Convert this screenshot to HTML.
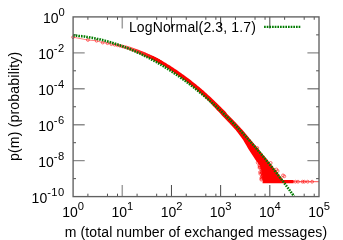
<!DOCTYPE html>
<html><head><meta charset="utf-8"><title>plot</title>
<style>
html,body{margin:0;padding:0;background:#fff;}
body{width:343px;height:240px;position:relative;overflow:hidden;font-family:"Liberation Sans",sans-serif;color:#000;}
#tx{position:absolute;left:0;top:0;width:343px;height:240px;will-change:transform;}
.t{position:absolute;height:20px;line-height:20px;white-space:nowrap;font-size:14px;}
.t.c{width:80px;text-align:center;}
.m{font-size:14px;}
.s{font-size:11.2px;position:relative;top:-7px;}
.s.n{letter-spacing:0.45px;}
.xl{position:absolute;left:0;width:343px;text-align:center;font-size:14px;line-height:16px;white-space:nowrap;}
.yl{position:absolute;font-size:14px;line-height:16px;white-space:nowrap;transform-origin:0 0;transform:rotate(-90deg);}
.lg{position:absolute;font-size:14px;line-height:16px;white-space:nowrap;}
</style></head><body>
<svg width="343" height="240" viewBox="0 0 343 240" style="position:absolute;left:0;top:0">
<path d="M73.1 52.84h11.6M319.0 52.84h-11.6M73.1 88.78h11.6M319.0 88.78h-11.6M73.1 124.72h11.6M319.0 124.72h-11.6M73.1 160.66h11.6M319.0 160.66h-11.6" stroke="#8c8c8c" stroke-width="1.4" fill="none"/>
<path d="M122.28 196.6v-11.6M122.28 16.9v11.6" stroke="#a0a0a0" stroke-width="1.5" fill="none"/>
<path d="M171.46 196.6v-11.6M171.46 16.9v11.6M220.64 196.6v-11.6M220.64 16.9v11.6M269.82 196.6v-11.6M269.82 16.9v11.6" stroke="#333333" stroke-width="0.9" fill="none"/>
<path d="M87.90 196.6v-2.9M87.90 16.9v2.9M107.48 196.6v-2.9M107.48 16.9v2.9M117.51 196.6v-2.9M117.51 16.9v2.9M137.08 196.6v-2.9M137.08 16.9v2.9M156.66 196.6v-2.9M156.66 16.9v2.9M166.69 196.6v-2.9M166.69 16.9v2.9M186.26 196.6v-2.9M186.26 16.9v2.9M205.84 196.6v-2.9M205.84 16.9v2.9M215.87 196.6v-2.9M215.87 16.9v2.9M235.44 196.6v-2.9M235.44 16.9v2.9M255.02 196.6v-2.9M255.02 16.9v2.9M265.05 196.6v-2.9M265.05 16.9v2.9M284.62 196.6v-2.9M284.62 16.9v2.9M304.20 196.6v-2.9M304.20 16.9v2.9M314.23 196.6v-2.9M314.23 16.9v2.9M73.1 34.87h2.9M319.0 34.87h-2.9M73.1 70.81h2.9M319.0 70.81h-2.9M73.1 106.75h2.9M319.0 106.75h-2.9M73.1 142.69h2.9M319.0 142.69h-2.9M73.1 178.63h2.9M319.0 178.63h-2.9" stroke="#303030" stroke-width="0.85" fill="none"/>
<g fill="none" stroke="#ff0000">
<path d="M73.1 37.2 L87.9 40.0 L96.6 40.8 L102.7 42.6 L107.5 43.2 L111.4 44.2 L114.7 44.8 L117.5 45.3 L120.0 45.8 L122.3 46.4 L124.3 46.9 L126.2 47.4 L127.9 47.9 L129.5 48.4 L130.9 48.9 L132.3 49.4 L133.6 49.9 L134.8 50.3 L136.0 50.7 L137.1 51.1 L138.1 51.5 L139.1 51.9 L140.1 52.3 L141.0 52.7 L141.9 53.0 L142.7 53.4 L143.5 53.7 L144.3 54.0 L145.0 54.3 L145.7 54.6 L146.4 55.0 L147.1 55.3 L147.8 55.6 L148.4 55.9 L149.0 56.1 L149.6 56.4 L150.2 56.7 L150.8 57.0 L151.3 57.2 L151.9 57.5 L152.4 57.7 L152.9 58.0 L153.4 58.2 L153.9 58.5 L154.4 58.7 L154.9 59.0 L155.3 59.2 L155.8 59.4 L156.2 59.7 L156.7 59.9 L157.1 60.1 L157.5 60.4 L157.9 60.6 L158.3 60.8 L158.7 61.0 L159.1 61.2 L159.5 61.4 L159.8 61.6 L160.2 61.8 L160.5 62.0" stroke-width="0.5"/>
<path d="M152.7 56.0 L153.7 56.5 L154.7 57.0 L155.8 57.5 L156.8 58.0 L157.8 58.6 L158.8 59.1 L159.8 59.7 L160.8 60.2 L161.9 60.8 L162.9 61.3 L163.9 61.9 L164.9 62.5 L165.9 63.1 L166.9 63.7 L168.0 64.4 L169.0 65.0 L170.0 65.6 L171.0 66.3 L172.0 66.9 L173.0 67.6 L174.0 68.3 L175.0 68.9 L176.0 69.6 L177.1 70.3 L178.1 71.0 L179.1 71.7 L180.1 72.4 L181.1 73.1 L182.1 73.9 L183.1 74.6 L184.1 75.3 L185.1 76.1 L186.1 76.8 L187.1 77.6 L188.2 78.3 L189.2 79.1 L190.2 79.8 L191.2 80.6 L192.2 81.4 L193.2 82.2 L194.2 83.0 L195.2 83.8 L196.2 84.6 L197.2 85.4 L198.2 86.2 L199.3 87.1 L200.3 88.0 L201.3 88.8 L202.3 89.7 L203.4 90.6 L204.4 91.5 L205.4 92.4 L206.4 93.3 L207.4 94.3 L208.4 95.2 L209.4 96.1 L210.5 97.0 L211.5 98.0 L212.5 99.0 L213.6 100.0 L214.6 101.0 L215.6 102.0 L216.7 103.0 L217.7 104.0 L218.7 105.0 L219.7 106.1 L220.8 107.1 L221.7 108.1 L222.7 109.0 L223.8 110.0 L224.8 111.0 L225.8 112.0 L227.2 114.0 L228.2 115.0 L229.2 116.0 L230.2 117.0 L231.2 118.0 L232.2 119.0 L233.2 120.0 L234.1 121.0 L235.1 122.0 L236.1 123.0 L237.0 124.0 L237.9 125.0 L238.9 126.0 L239.8 127.0 L240.7 128.0 L241.6 129.0 L242.6 130.0 L243.4 131.0 L244.3 132.0 L245.1 133.0 L245.9 134.0 L246.8 135.0 L247.6 136.0 L248.4 137.0 L249.2 138.0 L250.0 139.0 L250.9 140.0 L251.7 141.0 L252.5 142.0 L253.4 143.0 L254.2 144.0 L255.0 145.0 L255.9 146.0 L256.7 147.0 L257.5 148.0 L258.3 149.0 L259.1 150.0 L260.0 151.0 L260.8 152.0 L261.7 153.0 L262.5 154.0 L263.3 155.0 L264.2 156.0 L265.0 157.0 L265.8 158.0 L266.7 159.0 L267.5 160.0 L268.3 161.0 L269.1 162.0 L269.9 163.0 L270.7 164.0 L271.5 165.0 L272.3 166.0 L273.1 167.0 L273.9 168.0 L274.7 169.0 L275.5 170.0 L276.3 171.0 L277.1 172.0 L277.9 173.0 L278.6 174.0 L279.4 175.0 L280.2 176.0 L280.9 177.0 L281.7 178.0 L282.5 179.0 L283.2 180.0 L293.6 180.1 L293.6 183.3 L262.6 183.3 L262.6 180.6 L262.8 179.6 L262.7 179.0 L262.6 178.0 L262.4 177.0 L262.3 176.0 L262.1 175.0 L261.9 174.0 L261.8 173.0 L261.6 172.0 L261.4 171.0 L261.2 170.0 L260.9 169.0 L260.6 168.0 L260.3 167.0 L260.0 166.0 L259.3 165.0 L258.5 164.0 L257.8 163.0 L257.1 162.0 L256.3 161.0 L255.6 160.0 L254.9 159.0 L254.3 158.0 L253.6 157.0 L253.0 156.0 L252.3 155.0 L251.6 154.0 L251.0 153.0 L250.3 152.0 L249.7 151.0 L249.0 150.0 L248.4 149.0 L247.8 148.0 L247.2 147.0 L246.7 146.0 L246.1 145.0 L245.5 144.0 L244.9 143.0 L244.3 142.0 L243.7 141.0 L243.2 140.0 L242.4 139.0 L241.7 138.0 L241.0 137.0 L240.2 136.0 L239.5 135.0 L238.7 134.0 L238.0 133.0 L237.2 132.0 L236.4 131.0 L235.7 130.0 L234.7 129.0 L233.8 128.0 L232.9 127.0 L232.0 126.0 L231.0 125.0 L230.1 124.0 L229.2 123.0 L228.2 122.0 L227.2 121.0 L226.3 120.0 L225.3 119.0 L224.4 118.0 L223.4 117.0 L222.4 116.0 L221.4 115.0 L220.4 114.0 L222.2 115.6 L221.2 114.6 L220.2 113.6 L219.3 112.6 L218.3 111.6 L217.2 110.4 L216.3 109.4 L215.3 108.3 L214.3 107.3 L213.3 106.2 L212.4 105.2 L211.4 104.1 L210.4 103.1 L209.5 102.1 L208.5 101.1 L207.5 100.1 L206.6 99.2 L205.6 98.2 L204.6 97.3 L203.6 96.4 L202.6 95.4 L201.6 94.5 L200.6 93.6 L199.7 92.7 L198.7 91.8 L197.7 90.9 L196.7 90.0 L195.8 89.2 L194.8 88.4 L193.8 87.6 L192.8 86.8 L191.8 86.0 L190.8 85.2 L189.8 84.4 L188.8 83.6 L187.8 82.9 L186.8 82.1 L185.8 81.3 L184.9 80.6 L183.9 79.8 L182.9 79.1 L181.9 78.4 L180.9 77.6 L179.9 76.9 L178.9 76.2 L177.9 75.5 L176.9 74.8 L175.9 74.1 L174.9 73.4 L174.0 72.7 L173.0 72.0 L172.0 71.3 L171.0 70.6 L170.0 70.0 L169.0 69.3 L168.0 68.7 L167.0 68.0 L166.0 67.4 L165.1 66.7 L164.1 66.1 L163.1 65.5 L162.1 65.0 L161.1 64.4 L160.1 63.8 L159.2 63.3 L158.2 62.7 L157.2 62.1 L156.2 61.6 L155.2 61.1 L154.2 60.5 L153.3 60.0 L152.3 59.5 L151.3 59.1Z" fill="#ff0000" stroke="none"/>
</g>
<g fill="none" stroke="#ff0000" stroke-width="0.55">
<path d="M290 181.7H319.0" stroke-width="0.7"/>
<circle cx="73.1" cy="37.2" r="1.4"/>
<circle cx="87.9" cy="40.0" r="1.4"/>
<circle cx="96.6" cy="40.8" r="1.4"/>
<circle cx="102.7" cy="42.6" r="1.4"/>
<circle cx="107.5" cy="43.2" r="1.4"/>
<circle cx="111.4" cy="44.2" r="1.4"/>
<circle cx="114.7" cy="44.8" r="1.4"/>
<circle cx="117.5" cy="45.3" r="1.4"/>
<circle cx="120.0" cy="45.8" r="1.4"/>
<circle cx="122.3" cy="46.4" r="1.4"/>
<circle cx="124.3" cy="46.9" r="1.4"/>
<circle cx="126.2" cy="47.4" r="1.4"/>
<circle cx="127.9" cy="47.9" r="1.4"/>
<circle cx="129.5" cy="48.4" r="1.4"/>
<circle cx="130.9" cy="48.9" r="1.4"/>
<circle cx="132.3" cy="49.4" r="1.4"/>
<circle cx="133.6" cy="49.9" r="1.4"/>
<circle cx="134.8" cy="50.3" r="1.4"/>
<circle cx="136.0" cy="50.7" r="1.4"/>
<circle cx="137.1" cy="51.1" r="1.4"/>
<circle cx="138.1" cy="51.5" r="1.4"/>
<circle cx="139.1" cy="51.9" r="1.4"/>
<circle cx="140.1" cy="52.3" r="1.4"/>
<circle cx="141.0" cy="52.7" r="1.4"/>
<circle cx="141.9" cy="53.0" r="1.4"/>
<circle cx="142.7" cy="53.4" r="1.4"/>
<circle cx="143.5" cy="53.7" r="1.4"/>
<circle cx="144.3" cy="54.0" r="1.4"/>
<circle cx="145.0" cy="54.3" r="1.4"/>
<circle cx="145.7" cy="54.6" r="1.4"/>
<circle cx="146.4" cy="55.0" r="1.4"/>
<circle cx="147.1" cy="55.3" r="1.4"/>
<circle cx="147.8" cy="55.6" r="1.4"/>
<circle cx="148.4" cy="55.9" r="1.4"/>
<circle cx="149.0" cy="56.1" r="1.4"/>
<circle cx="149.6" cy="56.4" r="1.4"/>
<circle cx="150.2" cy="56.7" r="1.4"/>
<circle cx="150.8" cy="57.0" r="1.4"/>
<circle cx="151.3" cy="57.2" r="1.4"/>
<circle cx="151.9" cy="57.5" r="1.4"/>
<circle cx="152.4" cy="57.7" r="1.4"/>
<circle cx="152.9" cy="58.0" r="1.4"/>
<circle cx="153.4" cy="58.2" r="1.4"/>
<circle cx="153.9" cy="58.5" r="1.4"/>
<circle cx="154.4" cy="58.7" r="1.4"/>
<circle cx="154.9" cy="59.0" r="1.4"/>
<circle cx="155.3" cy="59.2" r="1.4"/>
<circle cx="155.8" cy="59.4" r="1.4"/>
<circle cx="156.2" cy="59.7" r="1.4"/>
<circle cx="156.7" cy="59.9" r="1.4"/>
<circle cx="157.1" cy="60.1" r="1.4"/>
<circle cx="157.5" cy="60.4" r="1.4"/>
<circle cx="157.9" cy="60.6" r="1.4"/>
<circle cx="158.3" cy="60.8" r="1.4"/>
<circle cx="158.7" cy="61.0" r="1.4"/>
<circle cx="159.1" cy="61.2" r="1.4"/>
<circle cx="159.5" cy="61.4" r="1.4"/>
<circle cx="159.8" cy="61.6" r="1.4"/>
<circle cx="160.2" cy="61.8" r="1.4"/>
<circle cx="160.5" cy="62.0" r="1.4"/>
<circle cx="257.7" cy="162.6" r="1.45"/>
<circle cx="259.4" cy="165.3" r="1.45"/>
<circle cx="259.7" cy="166.4" r="1.45"/>
<circle cx="260.4" cy="167.3" r="1.45"/>
<circle cx="259.5" cy="167.8" r="1.45"/>
<circle cx="261.5" cy="169.0" r="1.45"/>
<circle cx="261.6" cy="171.3" r="1.45"/>
<circle cx="260.1" cy="172.1" r="1.45"/>
<circle cx="261.9" cy="172.5" r="1.45"/>
<circle cx="260.3" cy="173.8" r="1.45"/>
<circle cx="261.8" cy="173.1" r="1.45"/>
<circle cx="262.7" cy="174.5" r="1.45"/>
<circle cx="262.9" cy="174.9" r="1.45"/>
<circle cx="262.4" cy="176.3" r="1.45"/>
<circle cx="262.3" cy="176.0" r="1.45"/>
<circle cx="263.1" cy="177.8" r="1.45"/>
<circle cx="261.5" cy="177.6" r="1.45"/>
<circle cx="261.5" cy="178.5" r="1.45"/>
<circle cx="263.4" cy="178.1" r="1.45"/>
<circle cx="261.3" cy="179.6" r="1.45"/>
<circle cx="257.3" cy="148.0" r="1.45"/>
<circle cx="276.4" cy="169.5" r="1.45"/>
<circle cx="277.6" cy="171.0" r="1.45"/>
<circle cx="283.0" cy="175.4" r="1.45"/>
<circle cx="284.3" cy="176.3" r="1.45"/>
<circle cx="270.7" cy="163.0" r="1.45"/>
<circle cx="295.4" cy="181.7" r="1.45"/>
<circle cx="298.0" cy="181.7" r="1.45"/>
<circle cx="302.5" cy="181.7" r="1.45"/>
<circle cx="304.3" cy="181.7" r="1.45"/>
<circle cx="307.7" cy="181.7" r="1.45"/>
<circle cx="312.1" cy="181.7" r="1.45"/>
</g>
<path d="M73.1 35.4 L73.6 35.4 L74.1 35.4 L74.6 35.5 L75.1 35.5 L75.6 35.6 L76.1 35.6 L76.6 35.7 L77.1 35.7 L77.6 35.8 L78.1 35.8 L78.6 35.9 L79.1 35.9 L79.6 36.0 L80.1 36.0 L80.6 36.1 L81.1 36.1 L81.6 36.2 L82.1 36.3 L82.6 36.3 L83.1 36.4 L83.6 36.5 L84.1 36.5 L84.6 36.6 L85.1 36.7 L85.6 36.8 L86.1 36.8 L86.6 36.9 L87.1 37.0 L87.6 37.1 L88.1 37.1 L88.6 37.2 L89.1 37.3 L89.6 37.4 L90.1 37.5 L90.6 37.6 L91.1 37.7 L91.6 37.7 L92.1 37.8 L92.6 37.9 L93.1 38.0 L93.6 38.1 L94.1 38.2 L94.6 38.3 L95.1 38.4 L95.6 38.5 L96.1 38.6 L96.6 38.7 L97.1 38.9 L97.6 39.0 L98.1 39.1 L98.6 39.2 L99.1 39.3 L99.6 39.4 L100.1 39.5 L100.6 39.6 L101.1 39.8 L101.6 39.9 L102.1 40.0 L102.6 40.1 L103.1 40.3 L103.6 40.4 L104.1 40.5 L104.6 40.6 L105.1 40.8 L105.6 40.9 L106.1 41.0 L106.6 41.2 L107.1 41.3 L107.6 41.5 L108.1 41.6 L108.6 41.7 L109.1 41.9 L109.6 42.0 L110.1 42.2 L110.6 42.3 L111.1 42.5 L111.6 42.6 L112.1 42.8 L112.6 42.9 L113.1 43.1 L113.6 43.2 L114.1 43.4 L114.6 43.5 L115.1 43.7 L115.6 43.9 L116.1 44.0 L116.6 44.2 L117.1 44.4 L117.6 44.5 L118.1 44.7 L118.6 44.9 L119.1 45.0 L119.6 45.2 L120.1 45.4 L120.6 45.6 L121.1 45.8 L121.6 45.9 L122.1 46.1 L122.6 46.3 L123.1 46.5 L123.6 46.7 L124.1 46.9 L124.6 47.0 L125.1 47.2 L125.6 47.4 L126.1 47.6 L126.6 47.8 L127.1 48.0 L127.6 48.2 L128.1 48.4 L128.6 48.6 L129.1 48.8 L129.6 49.0 L130.1 49.2 L130.6 49.4 L131.1 49.6 L131.6 49.8 L132.1 50.1 L132.6 50.3 L133.1 50.5 L133.6 50.7 L134.1 50.9 L134.6 51.1 L135.1 51.4 L135.6 51.6 L136.1 51.8 L136.6 52.0 L137.1 52.3 L137.6 52.5 L138.1 52.7 L138.6 52.9 L139.1 53.2 L139.6 53.4 L140.1 53.6 L140.6 53.9 L141.1 54.1 L141.6 54.4 L142.1 54.6 L142.6 54.8 L143.1 55.1 L143.6 55.3 L144.1 55.6 L144.6 55.8 L145.1 56.1 L145.6 56.3 L146.1 56.6 L146.6 56.8 L147.1 57.1 L147.6 57.3 L148.1 57.6 L148.6 57.9 L149.1 58.1 L149.6 58.4 L150.1 58.6 L150.6 58.9 L151.1 59.2 L151.6 59.5 L152.1 59.7 L152.6 60.0 L153.1 60.3 L153.6 60.5 L154.1 60.8 L154.6 61.1 L155.1 61.4 L155.6 61.7 L156.1 61.9 L156.6 62.2 L157.1 62.5 L157.6 62.8 L158.1 63.1 L158.6 63.4 L159.1 63.7 L159.6 64.0 L160.1 64.2 L160.6 64.5 L161.1 64.8 L161.6 65.1 L162.1 65.4 L162.6 65.7 L163.1 66.0 L163.6 66.3 L164.1 66.7 L164.6 67.0 L165.1 67.3 L165.6 67.6 L166.1 67.9 L166.6 68.2 L167.1 68.5 L167.6 68.8 L168.1 69.2 L168.6 69.5 L169.1 69.8 L169.6 70.1 L170.1 70.4 L170.6 70.8 L171.1 71.1 L171.6 71.4 L172.1 71.7 L172.6 72.1 L173.1 72.4 L173.6 72.7 L174.1 73.1 L174.6 73.4 L175.1 73.8 L175.6 74.1 L176.1 74.4 L176.6 74.8 L177.1 75.1 L177.6 75.5 L178.1 75.8 L178.6 76.2 L179.1 76.5 L179.6 76.9 L180.1 77.2 L180.6 77.6 L181.1 77.9 L181.6 78.3 L182.1 78.7 L182.6 79.0 L183.1 79.4 L183.6 79.7 L184.1 80.1 L184.6 80.5 L185.1 80.8 L185.6 81.2 L186.1 81.6 L186.6 82.0 L187.1 82.3 L187.6 82.7 L188.1 83.1 L188.6 83.5 L189.1 83.8 L189.6 84.2 L190.1 84.6 L190.6 85.0 L191.1 85.4 L191.6 85.8 L192.1 86.1 L192.6 86.5 L193.1 86.9 L193.6 87.3 L194.1 87.7 L194.6 88.1 L195.1 88.5 L195.6 88.9 L196.1 89.3 L196.6 89.7 L197.1 90.1 L197.6 90.5 L198.1 90.9 L198.6 91.3 L199.1 91.7 L199.6 92.2 L200.1 92.6 L200.6 93.0 L201.1 93.4 L201.6 93.8 L202.1 94.2 L202.6 94.7 L203.1 95.1 L203.6 95.5 L204.1 95.9 L204.6 96.3 L205.1 96.8 L205.6 97.2 L206.1 97.6 L206.6 98.1 L207.1 98.5 L207.6 98.9 L208.1 99.4 L208.6 99.8 L209.1 100.2 L209.6 100.7 L210.1 101.1 L210.6 101.6 L211.1 102.0 L211.6 102.5 L212.1 102.9 L212.6 103.4 L213.1 103.8 L213.6 104.3 L214.1 104.7 L214.6 105.2 L215.1 105.6 L215.6 106.1 L216.1 106.5 L216.6 107.0 L217.1 107.5 L217.6 107.9 L218.1 108.4 L218.6 108.9 L219.1 109.3 L219.6 109.8 L220.1 110.3 L220.6 110.8 L221.1 111.2 L221.6 111.7 L222.1 112.2 L222.6 112.7 L223.1 113.1 L223.6 113.6 L224.1 114.1 L224.6 114.6 L225.1 115.1 L225.6 115.6 L226.1 116.1 L226.6 116.5 L227.1 117.0 L227.6 117.5 L228.1 118.0 L228.6 118.5 L229.1 119.0 L229.6 119.5 L230.1 120.0 L230.6 120.5 L231.1 121.0 L231.6 121.5 L232.1 122.0 L232.6 122.6 L233.1 123.1 L233.6 123.6 L234.1 124.1 L234.6 124.6 L235.1 125.1 L235.6 125.6 L236.1 126.2 L236.6 126.7 L237.1 127.2 L237.6 127.7 L238.1 128.2 L238.6 128.8 L239.1 129.3 L239.6 129.8 L240.1 130.4 L240.6 130.9 L241.1 131.4 L241.6 132.0 L242.1 132.5 L242.6 133.0 L243.1 133.6 L243.6 134.1 L244.1 134.7 L244.6 135.2 L245.1 135.7 L245.6 136.3 L246.1 136.8 L246.6 137.4 L247.1 137.9 L247.6 138.5 L248.1 139.1 L248.6 139.6 L249.1 140.2 L249.6 140.7 L250.1 141.3 L250.6 141.8 L251.1 142.4 L251.6 143.0 L252.1 143.5 L252.6 144.1 L253.1 144.7 L253.6 145.3 L254.1 145.8 L254.6 146.4 L255.1 147.0 L255.6 147.5 L256.1 148.1 L256.6 148.7 L257.1 149.3 L257.6 149.9 L258.1 150.5 L258.6 151.0 L259.1 151.6 L259.6 152.2 L260.1 152.8 L260.6 153.4 L261.1 154.0 L261.6 154.6 L262.1 155.2 L262.6 155.8 L263.1 156.4 L263.6 157.0 L264.1 157.6 L264.6 158.2 L265.1 158.8 L265.6 159.4 L266.1 160.0 L266.6 160.6 L267.1 161.2 L267.6 161.8 L268.1 162.4 L268.6 163.1 L269.1 163.7 L269.6 164.3 L270.1 164.9 L270.6 165.5 L271.1 166.2 L271.6 166.8 L272.1 167.4 L272.6 168.0 L273.1 168.7 L273.6 169.3 L274.1 169.9 L274.6 170.6 L275.1 171.2 L275.6 171.8 L276.1 172.5 L276.6 173.1 L277.1 173.7 L277.6 174.4 L278.1 175.0 L278.6 175.7 L279.1 176.3 L279.6 177.0 L280.1 177.6 L280.6 178.3 L281.1 178.9 L281.6 179.6 L282.1 180.2 L282.6 180.9 L283.1 181.5 L283.6 182.2 L284.1 182.9 L284.6 183.5 L285.1 184.2 L285.6 184.9 L286.1 185.5 L286.6 186.2 L287.1 186.9 L287.6 187.5 L288.1 188.2 L288.6 188.9 L289.1 189.6 L289.6 190.2 L290.1 190.9 L290.6 191.6 L291.1 192.3 L291.6 193.0 L292.1 193.6 L292.6 194.3 L293.1 195.0 L293.6 195.7 L294.1 196.4" fill="none" stroke="#007c00" stroke-width="2.55" stroke-dasharray="1.6 1.06"/>
<path d="M264.07 25.75h1.65v2.3h-1.65zM266.74 25.75h1.65v2.3h-1.65zM269.40 25.75h1.65v2.3h-1.65zM272.06 25.75h1.65v2.3h-1.65zM274.72 25.75h1.65v2.3h-1.65zM277.38 25.75h1.65v2.3h-1.65zM280.04 25.75h1.65v2.3h-1.65zM282.69 25.75h1.65v2.3h-1.65zM285.36 25.75h1.65v2.3h-1.65zM288.01 25.75h1.65v2.3h-1.65zM290.68 25.75h1.65v2.3h-1.65zM293.33 25.75h1.65v2.3h-1.65zM296.00 25.75h1.65v2.3h-1.65zM298.65 25.75h1.65v2.3h-1.65z" fill="#007c00" stroke="none"/>
<rect x="73.1" y="16.9" width="245.9" height="179.7" fill="none" stroke="#606060" stroke-width="1.35"/>
</svg>
<div id="tx">
<div class="t" style="right:278.3px;top:8.0px"><span class="m">10</span><span class="s">0</span></div><div class="t" style="right:278.3px;top:43.9px"><span class="m">10</span><span class="s n">-2</span></div><div class="t" style="right:278.3px;top:79.9px"><span class="m">10</span><span class="s n">-4</span></div><div class="t" style="right:278.3px;top:115.8px"><span class="m">10</span><span class="s n">-6</span></div><div class="t" style="right:278.3px;top:151.8px"><span class="m">10</span><span class="s n">-8</span></div><div class="t" style="right:278.3px;top:187.7px"><span class="m">10</span><span class="s n">-10</span></div><div class="t c" style="left:33.2px;top:202.1px"><span class="m">10</span><span class="s">0</span></div><div class="t c" style="left:82.4px;top:202.1px"><span class="m">10</span><span class="s">1</span></div><div class="t c" style="left:131.6px;top:202.1px"><span class="m">10</span><span class="s">2</span></div><div class="t c" style="left:180.7px;top:202.1px"><span class="m">10</span><span class="s">3</span></div><div class="t c" style="left:229.9px;top:202.1px"><span class="m">10</span><span class="s">4</span></div><div class="t c" style="left:279.1px;top:202.1px"><span class="m">10</span><span class="s">5</span></div>
<div class="xl" style="top:223.9px;left:24.5px;letter-spacing:0.105px">m (total number of exchanged messages)</div>
<div class="yl" id="yl" style="left:5.5px;top:161.4px;letter-spacing:0.2px">p(m) (probability)</div>
<div class="lg" id="lg" style="left:128.9px;top:19px;letter-spacing:0.135px">LogNormal(2.3, 1.7)</div>
</div>
</body></html>
